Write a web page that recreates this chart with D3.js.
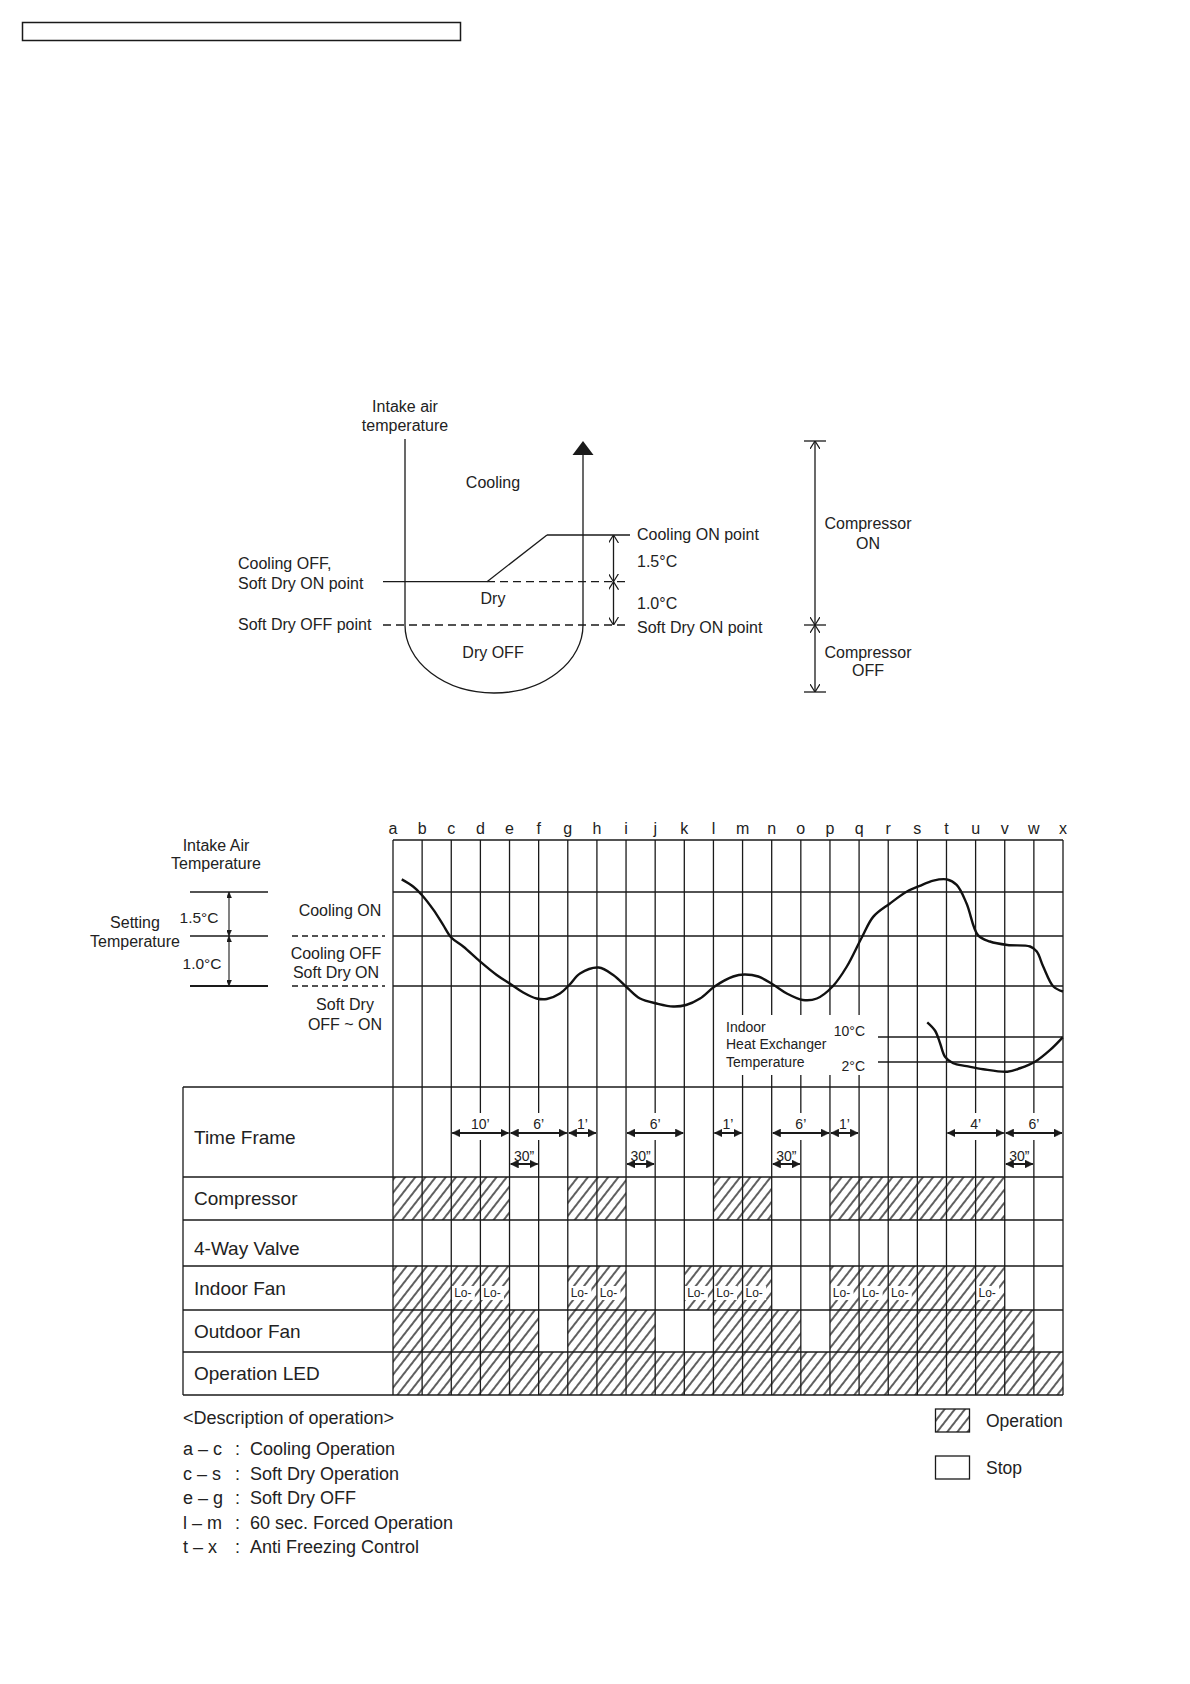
<!DOCTYPE html>
<html>
<head>
<meta charset="utf-8">
<script src="https://cdn.jsdelivr.net/npm/d3@7"></script>
<style>
  body { margin: 0; background: #fff; }
  text { font-family: "Liberation Sans", Arial, sans-serif; fill: #222; }
</style>
</head>
<body>
<svg id="chart" width="1190" height="1684"></svg>
<script>
// ---- data ----
const columns = ['a','b','c','d','e','f','g','h','i','j','k','l','m','n','o','p','q','r','s','t','u','v','w','x'];

// intake air temperature: [column position, deg C relative to setting temp]
const intakeCurve = [
  [0.30, 1.93], [0.70, 1.68], [0.99, 1.40], [1.39, 0.89], [1.72, 0.38], [2.00, -0.03],
  [2.41, -0.21], [2.99, -0.51], [3.56, -0.78], [4.03, -0.96], [4.47, -1.13], [4.93, -1.25],
  [5.28, -1.26], [5.73, -1.15], [6.05, -0.98], [6.42, -0.75], [7.06, -0.63], [7.56, -0.78],
  [8.07, -1.05], [8.48, -1.25], [9.05, -1.35], [9.62, -1.41], [10.06, -1.38], [10.54, -1.25],
  [11.04, -1.01], [11.68, -0.81], [12.06, -0.77], [12.54, -0.81], [13.07, -0.98], [13.52, -1.15],
  [14.07, -1.28], [14.55, -1.25], [15.09, -1.01], [15.58, -0.61], [16.11, -0.01], [16.49, 0.66],
  [17.06, 1.11], [17.63, 1.51], [18.06, 1.70], [18.55, 1.89], [19.01, 1.93], [19.35, 1.74],
  [19.69, 1.11], [20.08, 0.03], [20.49, -0.11], [21.09, -0.18], [21.87, -0.21], [22.10, -0.31],
  [22.32, -0.61], [22.67, -1.01], [23.00, -1.11]
];

// indoor heat exchanger temperature: [column position, deg C]
const heatExCurve = [
  [18.34, 14.7], [18.61, 12.0], [18.78, 8.0], [18.95, 3.7], [19.23, 1.6], [19.69, 0.7],
  [20.26, -0.3], [21.09, -1.1], [21.52, 0.0], [22.04, 2.1], [22.55, 5.8], [22.99, 9.9]
];
const heatExLevels = [10, 2];

const rowNames = ['Time Frame', 'Compressor', '4-Way Valve', 'Indoor Fan', 'Outdoor Fan', 'Operation LED'];
const compressorOn = [['a','e'], ['g','i'], ['l','n'], ['p','v']];
const valveOn = [];
const indoorFanOn = [['a','e'], ['g','i'], ['k','n'], ['p','v']];
const indoorFanLo = ['c','d','g','h','k','l','m','p','q','r','u'];
const outdoorFanOn = [['a','f'], ['g','j'], ['l','o'], ['p','w']];
const ledOn = [['a','x']];

const timeFrames = [
  ['c','e',"10\u2019"], ['e','g',"6\u2019"], ['g','h',"1\u2019"], ['i','k',"6\u2019"],
  ['l','m',"1\u2019"], ['n','p',"6\u2019"], ['p','q',"1\u2019"], ['t','v',"4\u2019"], ['v','x',"6\u2019"]
];
const delays = [['e','f','30\u201D'], ['i','j','30\u201D'], ['n','o','30\u201D'], ['v','w','30\u201D']];

const descriptions = [
  ['a \u2013 c', 'Cooling Operation'],
  ['c \u2013 s', 'Soft Dry Operation'],
  ['e \u2013 g', 'Soft Dry OFF'],
  ['l \u2013 m', '60 sec. Forced Operation'],
  ['t \u2013 x', 'Anti Freezing Control']
];

// ---- setup ----
const svg = d3.select('#chart');
const ink = '#1a1a1a';
const defs = svg.append('defs');

defs.append('pattern')
  .attr('id', 'hatch')
  .attr('patternUnits', 'userSpaceOnUse')
  .attr('width', 8).attr('height', 8)
  .attr('patternTransform', 'rotate(38)')
  .append('line')
  .attr('x1', 4).attr('y1', -1).attr('x2', 4).attr('y2', 9)
  .attr('stroke', '#000').attr('stroke-width', 1.25);

function marker(id, w, h, filled) {
  defs.append('marker')
    .attr('id', id)
    .attr('viewBox', `0 ${-h / 2} ${w} ${h}`)
    .attr('refX', w).attr('refY', 0)
    .attr('markerUnits', 'userSpaceOnUse')
    .attr('markerWidth', w).attr('markerHeight', h)
    .attr('orient', 'auto-start-reverse')
    .append('path')
    .attr('d', `M0,${-h / 2}L${w},0L0,${h / 2}` + (filled ? 'Z' : ''))
    .attr('fill', filled ? ink : 'none')
    .attr('stroke', ink).attr('stroke-width', filled ? 0.5 : 1.2);
}
marker('open', 8, 10, false);
marker('small', 6, 5, true);
marker('tf', 8, 8, true);

function line(g, x1, y1, x2, y2, opts = {}) {
  const l = g.append('line')
    .attr('x1', x1).attr('y1', y1).attr('x2', x2).attr('y2', y2)
    .attr('stroke', ink).attr('stroke-width', opts.w || 1.3);
  if (opts.dash) l.attr('stroke-dasharray', opts.dash);
  if (opts.arrow) l.attr('marker-start', `url(#${opts.arrow})`).attr('marker-end', `url(#${opts.arrow})`);
  return l;
}
function label(g, x, y, str, size, anchor = 'start') {
  return g.append('text').attr('x', x).attr('y', y).attr('dy', '0.36em')
    .attr('font-size', size).attr('text-anchor', anchor).text(str);
}

// header box
svg.append('rect').attr('x', 22.5).attr('y', 22.5).attr('width', 438).attr('height', 18)
  .attr('fill', 'none').attr('stroke', ink).attr('stroke-width', 1.5);

// ---- diagram 1 ----
const d1 = svg.append('g');
const levelY = d3.scaleLinear().domain([-1, 0, 1.5]).range([625, 581.7, 535]);

label(d1, 405, 406, 'Intake air', 16, 'middle');
label(d1, 405, 425, 'temperature', 16, 'middle');

d1.append('path')
  .attr('d', `M405,439 V${levelY(-1)} A89,68 0 0 0 583,${levelY(-1)} V454`)
  .attr('fill', 'none').attr('stroke', ink).attr('stroke-width', 1.3);
d1.append('path').attr('d', 'M572.5,455 L583,441 L593.5,455 Z').attr('fill', ink);

label(d1, 493, 482, 'Cooling', 16, 'middle');
label(d1, 493, 598, 'Dry', 16, 'middle');
label(d1, 493, 652, 'Dry OFF', 16, 'middle');

line(d1, 383, levelY(0), 487, levelY(0));
line(d1, 487, levelY(0), 547, levelY(1.5));
line(d1, 547, levelY(1.5), 630, levelY(1.5));
line(d1, 487, levelY(0), 630, levelY(0), {dash: '8,5'});
line(d1, 383, levelY(-1), 628, levelY(-1), {dash: '8,5'});

label(d1, 238, 563, 'Cooling OFF,', 16);
label(d1, 238, 583, 'Soft Dry ON point', 16);
label(d1, 238, 624, 'Soft Dry OFF point', 16);

line(d1, 613.5, levelY(1.5), 613.5, levelY(0), {arrow: 'open'});
line(d1, 613.5, levelY(0), 613.5, levelY(-1), {arrow: 'open'});
label(d1, 637, 534, 'Cooling ON point', 16);
label(d1, 637, 561, '1.5\u00B0C', 16);
label(d1, 637, 603, '1.0\u00B0C', 16);
label(d1, 637, 627, 'Soft Dry ON point', 16);

[441, levelY(-1), 692].forEach(y => line(d1, 804, y, 826, y));
line(d1, 815, 441, 815, levelY(-1), {arrow: 'open'});
line(d1, 815, levelY(-1), 815, 692, {arrow: 'open'});
label(d1, 868, 523, 'Compressor', 16, 'middle');
label(d1, 868, 543, 'ON', 16, 'middle');
label(d1, 868, 652, 'Compressor', 16, 'middle');
label(d1, 868, 670, 'OFF', 16, 'middle');

// ---- diagram 2 ----
const d2 = svg.append('g');
const x = d3.scalePoint().domain(columns).range([393, 1063]);
const tX = d3.scaleLinear().domain([0, columns.length - 1]).range([393, 1063]);
const tempY = d3.scaleLinear().domain([-1, 0, 1.5]).range([986, 936, 892]);
const hexY = d3.scaleLinear().domain([2, 10]).range([1062, 1037]);
const gTop = 840, tTop = 1087, tBottom = 1395;
const rowEdges = [1087, 1177, 1220, 1266, 1310, 1352, 1395];
const labelYs = [1137, 1198, 1248, 1288, 1331, 1373];

// column letters
columns.forEach(c => label(d2, x(c), 828, c, 16, 'middle'));

// left legend
label(d2, 216, 845, 'Intake Air', 16, 'middle');
label(d2, 216, 863, 'Temperature', 16, 'middle');
label(d2, 135, 922, 'Setting', 16, 'middle');
label(d2, 135, 941, 'Temperature', 16, 'middle');
[1.5, 0, -1].forEach(v => line(d2, 190, tempY(v), 268, tempY(v), {w: v === -1 ? 1.8 : 1.3}));
line(d2, 229, tempY(1.5), 229, tempY(0), {arrow: 'small', w: 1.1});
line(d2, 229, tempY(0), 229, tempY(-1), {arrow: 'small', w: 1.1});
label(d2, 199, 917, '1.5\u00B0C', 15.5, 'middle');
label(d2, 202, 963, '1.0\u00B0C', 15.5, 'middle');
[0, -1].forEach(v => line(d2, 292, tempY(v), 385, tempY(v), {dash: '6,4'}));
label(d2, 340, 910, 'Cooling ON', 16, 'middle');
label(d2, 336, 953, 'Cooling OFF', 16, 'middle');
label(d2, 336, 972, 'Soft Dry ON', 16, 'middle');
label(d2, 345, 1004, 'Soft Dry', 16, 'middle');
label(d2, 345, 1024, 'OFF ~ ON', 16, 'middle');

// graph grid
line(d2, 393, gTop, 1063, gTop);
[1.5, 0, -1].forEach(v => line(d2, 393, tempY(v), 1063, tempY(v)));
const gapCols = ['m','n','o','p','q'];
columns.forEach(c => {
  if (gapCols.includes(c)) {
    line(d2, x(c), gTop, x(c), 1015);
    line(d2, x(c), 1075, x(c), tTop);
  } else {
    line(d2, x(c), gTop, x(c), tTop);
  }
});
heatExLevels.forEach(v => line(d2, 878, hexY(v), 1063, hexY(v)));
label(d2, 726, 1027, 'Indoor', 14);
label(d2, 726, 1044, 'Heat Exchanger', 14);
label(d2, 726, 1062, 'Temperature', 14);
label(d2, 865, 1031, '10\u00B0C', 14, 'end');
label(d2, 865, 1066, '2\u00B0C', 14, 'end');

const lineIntake = d3.line().x(d => tX(d[0])).y(d => tempY(d[1])).curve(d3.curveCatmullRom);
const lineHex = d3.line().x(d => tX(d[0])).y(d => hexY(d[1])).curve(d3.curveCatmullRom);
d2.append('path').attr('d', lineIntake(intakeCurve)).attr('fill', 'none').attr('stroke', '#111').attr('stroke-width', 2.4);
d2.append('path').attr('d', lineHex(heatExCurve)).attr('fill', 'none').attr('stroke', '#111').attr('stroke-width', 2.4);

// ---- table ----
const tb = svg.append('g');
const rowSpans = [null, compressorOn, valveOn, indoorFanOn, outdoorFanOn, ledOn];
rowSpans.forEach((spans, i) => {
  if (!spans) return;
  spans.forEach(([a, b]) => {
    tb.append('rect')
      .attr('x', x(a)).attr('y', rowEdges[i])
      .attr('width', x(b) - x(a)).attr('height', rowEdges[i + 1] - rowEdges[i])
      .attr('fill', 'url(#hatch)');
  });
});

// "Lo-" marks in indoor fan row
const step = x.step();
indoorFanLo.forEach(c => {
  const cx = x(c) + step / 2 - 3;
  const cy = (rowEdges[3] + rowEdges[4]) / 2 + 5;
  tb.append('rect').attr('x', cx - 12).attr('y', cy - 7).attr('width', 24).attr('height', 14).attr('fill', '#fff');
  label(tb, cx, cy, 'Lo-', 12, 'middle');
});

// table grid
rowEdges.forEach(y => line(tb, 183, y, 1063, y));
line(tb, 183, tTop, 183, tBottom);
const brokenCols = ['d','f','j','o','u','w'];
columns.forEach(c => {
  if (brokenCols.includes(c)) {
    line(tb, x(c), tTop, x(c), 1113);
    line(tb, x(c), 1140, x(c), tBottom);
  } else {
    line(tb, x(c), tTop, x(c), tBottom);
  }
});

rowNames.forEach((n, i) => label(tb, 194, labelYs[i], n, 19));

// time frame arrows
timeFrames.forEach(([a, b, t]) => {
  line(tb, x(a) + 1, 1133, x(b) - 1, 1133, {arrow: 'tf', w: 2});
  label(tb, (x(a) + x(b)) / 2, 1124, t, 14, 'middle');
});
delays.forEach(([a, b, t]) => {
  line(tb, x(a) + 1, 1164, x(b) - 1, 1164, {arrow: 'tf', w: 2});
  label(tb, (x(a) + x(b)) / 2, 1156, t, 14, 'middle');
});

// ---- description & legend ----
const ds = svg.append('g');
label(ds, 183, 1418, '<Description of operation>', 18);
descriptions.forEach(([code, txt], i) => {
  const y = 1449 + i * 24.4;
  label(ds, 183, y, code, 18);
  label(ds, 235, y, ':', 18);
  label(ds, 250, y, txt, 18);
});
ds.append('rect').attr('x', 935.5).attr('y', 1409).attr('width', 34).attr('height', 23)
  .attr('fill', 'url(#hatch)').attr('stroke', ink).attr('stroke-width', 1.3);
ds.append('rect').attr('x', 935.5).attr('y', 1456).attr('width', 34).attr('height', 23)
  .attr('fill', '#fff').attr('stroke', ink).attr('stroke-width', 1.3);
label(ds, 986, 1421, 'Operation', 17.5);
label(ds, 986, 1468, 'Stop', 17.5);
</script>
</body>
</html>
